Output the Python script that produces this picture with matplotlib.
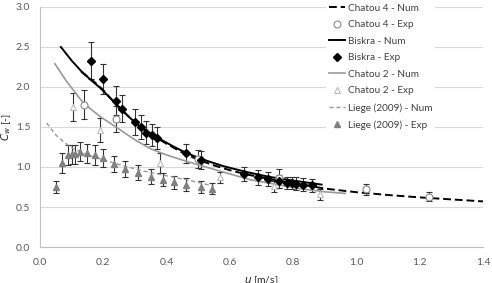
import numpy as np
import matplotlib
matplotlib.use("Agg")
import matplotlib.pyplot as plt

plt.rcParams['font.family'] = ['Lato', 'DejaVu Sans']

# Chatou 4
c4_num_x = [0.13, 0.17, 0.20, 0.25, 0.30, 0.35, 0.40, 0.45, 0.50, 0.55, 0.60, 0.65, 0.70, 0.75, 0.80, 0.85, 0.90,
            1.00, 1.10, 1.20, 1.30, 1.40]
c4_num_y = [2.19, 2.07, 1.96, 1.74, 1.56, 1.41, 1.29, 1.18, 1.09, 1.02, 0.96, 0.91, 0.87, 0.83, 0.80, 0.765, 0.73,
            0.685, 0.65, 0.62, 0.595, 0.57]
c4_exp_x = [0.14, 0.24, 0.50, 0.755, 1.03, 1.23]
c4_exp_y = [1.78, 1.60, 1.10, 0.86, 0.72, 0.63]
c4_exp_e = [0.18, 0.16, 0.11, 0.12, 0.07, 0.06]

# Biskra
bk_num_x = [0.066, 0.10, 0.13, 0.16, 0.19, 0.24, 0.28, 0.32, 0.37, 0.42, 0.46, 0.51, 0.58, 0.65, 0.72, 0.80, 0.89]
bk_num_y = [2.50, 2.33, 2.20, 2.09, 1.99, 1.79, 1.63, 1.49, 1.37, 1.26, 1.18, 1.10, 1.01, 0.94, 0.88, 0.83, 0.78]
bk_exp_x = [0.16, 0.20, 0.24, 0.26, 0.30, 0.32, 0.335, 0.355, 0.37, 0.46, 0.51, 0.645, 0.69, 0.72, 0.755,
            0.78, 0.795, 0.81, 0.83, 0.86]
bk_exp_y = [2.33, 2.10, 1.83, 1.73, 1.56, 1.50, 1.43, 1.40, 1.36, 1.17, 1.09, 0.91, 0.87, 0.85, 0.82,
            0.80, 0.80, 0.79, 0.78, 0.77]
bk_exp_e = [0.23, 0.19, 0.18, 0.17, 0.16, 0.15, 0.14, 0.14, 0.14, 0.12, 0.11, 0.09, 0.09, 0.09, 0.08,
            0.08, 0.08, 0.08, 0.08, 0.08]

# Chatou 2
c2_num_x = [0.047, 0.084, 0.137, 0.19, 0.24, 0.30, 0.348, 0.40, 0.464, 0.55, 0.665, 0.75, 0.82, 0.90, 0.965]
c2_num_y = [2.29, 2.07, 1.80, 1.63, 1.50, 1.34, 1.23, 1.15, 1.07, 0.97, 0.84, 0.78, 0.73, 0.69, 0.67]
c2_exp_x = [0.105, 0.19, 0.38, 0.57, 0.74, 0.886]
c2_exp_y = [1.75, 1.46, 1.05, 0.87, 0.76, 0.66]
c2_exp_e = [0.17, 0.15, 0.13, 0.07, 0.07, 0.07]

# Liege (2009)
lg_num_x = [0.021, 0.05, 0.079, 0.105, 0.15, 0.20, 0.25, 0.316, 0.40, 0.475, 0.55]
lg_num_y = [1.55, 1.40, 1.30, 1.23, 1.15, 1.09, 1.03, 0.96, 0.89, 0.83, 0.76]
lg_exp_x = [0.05, 0.07, 0.09, 0.10, 0.11, 0.125, 0.15, 0.175, 0.20, 0.235, 0.27, 0.31, 0.35, 0.39, 0.425,
            0.46, 0.51, 0.545]
lg_exp_y = [0.75, 1.05, 1.15, 1.16, 1.16, 1.19, 1.17, 1.15, 1.11, 1.04, 0.98, 0.93, 0.88, 0.84, 0.81,
            0.78, 0.75, 0.73]
lg_exp_e = [0.08, 0.12, 0.12, 0.12, 0.12, 0.12, 0.12, 0.12, 0.11, 0.10, 0.10, 0.09, 0.09, 0.08, 0.08,
            0.08, 0.08, 0.07]

fig = plt.figure(figsize=(4.92, 2.83), dpi=100)
ax = fig.add_axes([0.0813, 0.1272, 0.9004, 0.8481])

eb = dict(fmt='none', ecolor='#333333', elinewidth=0.8, capsize=2, capthick=0.8, zorder=2)
ax.errorbar(c4_exp_x, c4_exp_y, yerr=c4_exp_e, **eb)
ax.errorbar(bk_exp_x, bk_exp_y, yerr=bk_exp_e, **eb)
ax.errorbar(c2_exp_x, c2_exp_y, yerr=c2_exp_e, **eb)
ax.errorbar(lg_exp_x, lg_exp_y, yerr=lg_exp_e, **eb)

ax.plot(c4_num_x, c4_num_y, color='black', lw=1.4, dashes=(4, 2), label='Chatou 4 - Num', zorder=3)
ax.plot(c4_exp_x, c4_exp_y, 'o', ms=5, mfc='white', mec='#888888', mew=0.8, ls='none',
        label='Chatou 4 - Exp', zorder=4)
ax.plot(bk_num_x, bk_num_y, color='black', lw=1.4, label='Biskra - Num', zorder=3)
ax.plot(bk_exp_x, bk_exp_y, 'D', ms=4, color='black', ls='none', label='Biskra - Exp', zorder=4)
ax.plot(c2_num_x, c2_num_y, color='#999999', lw=1.2, label='Chatou 2 - Num', zorder=3)
ax.plot(c2_exp_x, c2_exp_y, '^', ms=5, mfc='white', mec='#bbbbbb', mew=0.8, ls='none',
        label='Chatou 2 - Exp', zorder=4)
ax.plot(lg_num_x, lg_num_y, color='#999999', lw=1.0, dashes=(3, 2), label='Liege (2009) - Num', zorder=3)
ax.plot(lg_exp_x, lg_exp_y, '^', ms=5, color='#808080', ls='none', label='Liege (2009) - Exp', zorder=4)

ax.set_xlim(0, 1.4)
ax.set_ylim(0, 3.0)
ax.set_xticks(np.arange(0, 1.41, 0.2))
ax.set_yticks(np.arange(0, 3.01, 0.5))
ax.xaxis.set_major_formatter(plt.FormatStrFormatter('%.1f'))
ax.yaxis.set_major_formatter(plt.FormatStrFormatter('%.1f'))
ax.tick_params(length=0, labelsize=7.5, labelcolor='#595959')
ax.tick_params(axis='x', pad=8)
ax.tick_params(axis='y', pad=7)
ax.grid(axis='y', color='#d9d9d9', lw=0.8)
ax.set_axisbelow(True)
for s in ['top', 'right']:
    ax.spines[s].set_visible(False)
for s in ['left', 'bottom']:
    ax.spines[s].set_color('#c0c0c0')
    ax.spines[s].set_linewidth(0.8)

ax.set_ylabel('$C_w$ [-]', fontsize=7.5, color='#222222', labelpad=2)
ax.set_xlabel('$u$ [m/s]', fontsize=7.5, color='#222222', labelpad=5)

leg = ax.legend(loc='upper left', bbox_to_anchor=(0.645, 1.025), fontsize=7.2, frameon=True,
                facecolor='white', edgecolor='none', framealpha=1, handlelength=1.6,
                handletextpad=0.3, labelspacing=0.75, borderpad=0.3, borderaxespad=0)
for t in leg.get_texts():
    t.set_color('#404040')

fig.savefig('out.png', dpi=100)
